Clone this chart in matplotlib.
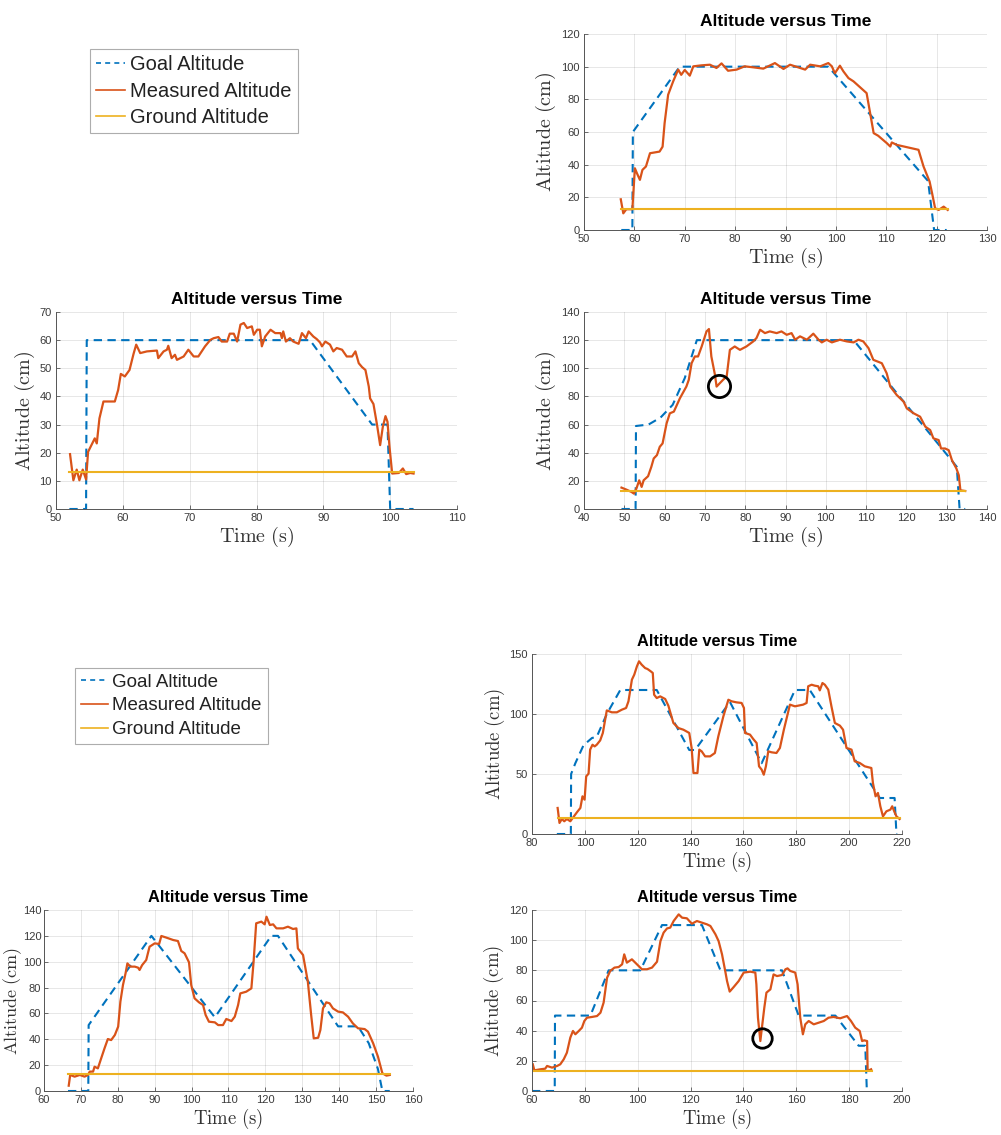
import matplotlib
matplotlib.use("Agg")
import matplotlib.pyplot as plt
from matplotlib.lines import Line2D

plt.rcParams["font.family"] = ["Liberation Sans", "DejaVu Sans"]
plt.rcParams["mathtext.fontset"] = "cm"

BLUE = "#0072BD"
ORANGE = "#D95319"
YELLOW = "#EDB120"
GROUND = 13

# ---- panel 1 (top right)
p1_goal_t = [57.4, 59.6, 59.7, 69.0, 98.5, 118.3, 119.5, 122.0]
p1_goal_v = [0, 0, 60, 100, 100, 30, 0, 0]
p1_meas_t = [57.3, 57.8, 58.4, 59.6, 60.1, 60.5, 61.1, 61.6, 62.3, 63.1, 65.0, 65.6, 66.0, 66.7,
             67.7, 68.7, 69.3, 70.0, 71.0, 71.7, 73.3, 75.0, 76.3, 77.3, 78.6, 80.3, 81.9, 83.6,
             85.6, 87.9, 89.6, 90.9, 92.9, 93.9, 94.9, 96.9, 98.5, 99.2, 99.8, 100.8, 101.5, 102.5,
             103.5, 106.1, 106.8, 107.5, 108.4, 110.1, 110.8, 111.1, 112.1, 116.4, 117.4, 118.6,
             119.1, 119.7, 120.4, 121.4, 122.2]
p1_meas_v = [18.8, 10.2, 12.7, 12.7, 37.8, 34.8, 30.7, 36.8, 38.9, 47, 48, 51, 65.4, 82.8,
             91, 98.2, 95, 98, 94.5, 100.2, 100.8, 101.2, 99.2, 102, 97.5, 98.2, 100.2, 99.6,
             98.8, 102.2, 98.6, 101.2, 99.2, 98.2, 101.2, 100.2, 102.2, 100.2, 96, 100.6, 97.1, 93,
             91, 83.8, 71.6, 59.3, 57.7, 53.2, 51.1, 53.6, 52.1, 49.1, 38.9, 29.7,
             22.5, 13.3, 12.3, 14.3, 12.3]
p1_ground_t = [57.3, 122.2]

# ---- panel 2 (middle left)
p2_goal_t = [52.0, 54.5, 54.6, 88.0, 97.3, 99.6, 100.0, 103.5]
p2_goal_v = [0, 0, 60, 60, 30, 30, 0, 0]
p2_meas_t = [52.1, 52.6, 53.1, 53.5, 54.0, 54.5, 54.8, 55.3, 55.8, 56.1, 56.5, 57.1, 58.8, 59.3,
             59.7, 60.3, 61.0, 61.6, 62.0, 62.6, 63.6, 65.1, 65.3, 66.1, 66.6, 66.8, 67.3, 67.8,
             68.1, 69.1, 69.8, 70.6, 71.3, 72.3, 73.1, 73.6, 74.3, 74.8, 75.6, 76.0, 76.6, 77.1,
             77.6, 78.1, 78.6, 79.3, 79.6, 80.1, 80.5, 80.8, 81.3, 82.1, 82.8, 83.6, 83.8, 84.0,
             84.4, 85.0, 85.5, 86.3, 86.8, 87.4, 87.8, 88.5, 89.0, 89.5, 89.8, 90.3, 91.0, 91.5,
             92.0, 92.8, 93.5, 94.3, 94.8, 95.3, 95.8, 96.3, 96.8, 97.0, 97.5, 98.0, 98.5, 98.9,
             99.3, 99.6, 99.9, 100.3, 101.3, 101.9, 102.4, 103.0, 103.5]
p2_meas_v = [19.5, 10.2, 14, 10.2, 14, 10.5, 20.3, 22.7, 25.1, 23.3, 32.2, 38.2, 38.2, 42.3,
             48, 47.1, 49.4, 55.1, 58.4, 55.4, 56, 56.3, 53.6, 56, 56.6, 58, 53.6, 54.8,
             53, 54.2, 56.6, 54.2, 54.2, 57.8, 60.1, 60.7, 61.1, 59.5, 59.5, 62.3, 62.3, 59.5,
             65.5, 66.1, 64.3, 64.9, 61.9, 63.7, 63.7, 57.8, 61.3, 63.7, 62.5, 62.5, 60.7, 63.1,
             59.5, 60.7, 59.5, 58.7, 62.5, 60.7, 63.1, 61.3, 60.4, 59.2, 57.8, 59.5, 58.4, 56,
             57.2, 56.6, 54.2, 54.2, 56, 51.8, 50.4, 49.4, 43.5, 39.3, 37.3, 30.4, 22.7, 29.2,
             33, 31, 22.1, 12.6, 12.8, 14.4, 12.4, 12.8, 12.6]
p2_ground_t = [52.0, 103.5]

# ---- panel 3 (middle right)
p3_goal_t = [49.3, 52.8, 52.9, 56.0, 59.0, 62.0, 65.0, 68.0, 106.9, 132.5, 133.2, 134.6]
p3_goal_v = [0, 0, 59, 60, 65, 74, 93, 120, 120, 30, 0, 0]
p3_meas_t = [49.3, 50.5, 51.8, 52.4, 53.0, 53.7, 54.3, 54.8, 55.9, 56.7, 57.3, 58.1, 58.8, 59.5,
             60.5, 61.3, 62.3, 63.8, 65.4, 66.0, 66.7, 67.5, 68.3, 69.2, 70.4, 71.0, 71.6, 72.5,
             72.9, 73.7, 74.5, 75.4, 76.2, 77.4, 78.7, 80.3, 82.0, 82.8, 83.7, 84.9, 86.1, 87.8,
             89.0, 90.3, 91.5, 92.4, 93.6, 95.3, 96.9, 98.2, 99.0, 100.2, 101.5, 103.5, 105.2,
             106.9, 108.1, 109.3, 110.6, 111.8, 113.9, 115.1, 116.0, 117.6, 119.3, 120.1, 121.8,
             123.4, 124.7, 125.9, 126.7, 128.0, 128.6, 129.6, 130.5, 131.3, 132.4, 133.0, 133.4,
             134.6]
p3_meas_v = [15.2, 13.8, 12.1, 10.9, 14.5, 20.4, 15.7, 20.4, 23.3, 29.9, 35.9, 38.3, 44.2, 46.6,
             60.9, 68, 69.2, 78.7, 87, 91.8, 103.6, 108.4, 108.4, 115.5, 126.2, 127.9, 108.4, 95.3,
             87, 89.4, 91.8, 94.1, 113.1, 115.5, 113.1, 115.5, 119.1, 121.5, 127.4, 125, 126.2, 125,
             126.2, 123.8, 125, 120.3, 122.7, 120.3, 124.6, 120.3, 118.4, 120.3, 118.4, 120.3, 119.1,
             118.4, 120.3, 119.1, 114.3, 106, 103.6, 96.5, 87, 81, 76.3, 71.5, 68,
             65.6, 58.5, 56.1, 50.2, 49, 43, 43, 41.8, 34.7, 28.8, 24, 13.3,
             12.8]
p3_ground_t = [49.3, 134.6]
p3_circle = (73.5, 87.5)

# ---- panel 4 (lower right)
p4_goal_t = [89.4, 94.7, 94.8, 96.4, 99.5, 102.7, 104.5, 108.3, 113.4, 127.2, 139.5, 141.7,
             154.9, 166.9, 179.5, 185.1, 211.6, 217.2, 217.9, 218.2]
p4_goal_v = [0, 0, 50, 59, 74, 80, 81, 100, 120, 120, 70, 70,
             110, 59, 120, 120, 30, 30, 0, 0]
p4_meas_t = [89.7, 90.4, 91.3, 92.2, 93.2, 94.5, 95.7, 97.0, 98.3, 99.1, 99.9, 100.5, 101.4, 102.0,
             102.9, 103.7, 104.5, 105.8, 106.8, 108.3, 110.2, 112.1, 114.0, 115.6, 116.5, 117.8,
             118.7, 119.7, 120.5, 121.5, 122.8, 123.7, 124.9, 125.7, 126.2, 127.2, 128.5, 130.4,
             131.6, 133.5, 135.4, 137.3, 139.5, 140.4, 141.1, 142.6, 143.3, 144.2, 145.5, 147.4,
             149.2, 150.5, 152.4, 154.3, 155.5, 157.4, 159.3, 160.2, 160.6, 162.5, 163.7, 165.0,
             165.9, 166.9, 167.7, 168.5, 169.4, 170.6, 172.5, 173.8, 175.3, 177.6, 179.5, 182.6,
             183.9, 184.5, 185.8, 187.0, 188.3, 188.9, 189.9, 190.8, 192.1, 193.3, 194.6, 196.5,
             197.7, 199.0, 200.9, 202.1, 204.0, 205.9, 208.4, 209.0, 210.0, 210.9, 211.8, 212.8,
             214.1, 215.6, 216.3, 217.2, 217.9, 219.1]
p4_meas_v = [21.7, 9.2, 12.5, 10.6, 12.5, 10.6, 14.2, 18.1, 21.7, 31.4, 28.6, 48, 50.3, 70.3,
             74.4, 73, 74.4, 78, 84.2, 103, 101.4, 101.4, 103.6, 105, 110.6, 128.6,
             132.8, 139.7, 143.9, 141.1, 138.3, 137.5, 135.6, 134.2, 116.1, 113.3, 114.7, 112.5,
             106.9, 92.5, 88.3, 86.9, 84.2, 71.7, 50.8, 50.8, 70.3, 68.9, 64.7, 64.7,
             67.5, 81.4, 98, 111.9, 110.6, 109.7, 109.2, 105, 84.2, 82.8, 79.2, 75.8,
             56.4, 53.6, 49.4, 56.4, 68.9, 68.1, 67.5, 71.7, 86.9, 107.8, 106.4, 107.8,
             109.2, 123.1, 124.4, 123.6, 123.1, 119.7, 125.8, 124.4, 120.3, 106.4, 92.5, 90.3,
             86.9, 71.7, 70.3, 60.6, 59.2, 56.4, 55, 42.5, 31.4, 34.2, 23.1, 14.7,
             18.9, 20.3, 23.1, 18.1, 14.7, 12.5]
p4_ground_t = [89.7, 219.3]

# ---- panel 5 (bottom left)
p5_goal_t = [66.5, 72.0, 72.1, 89.1, 106.3, 121.6, 123.4, 139.7, 145.1, 148.0, 150.5, 151.7, 153.7]
p5_goal_v = [0, 0, 51, 120, 57, 120, 120, 50, 50, 37, 17, 0, 0]
p5_meas_t = [66.7, 67.1, 68.3, 69.7, 71.0, 71.9, 72.4, 73.3, 73.7, 74.6, 75.5, 76.4, 77.3, 78.2,
             79.2, 80.1, 80.7, 81.4, 82.1, 82.6, 83.4, 84.6, 85.5, 85.9, 86.6, 87.7, 88.6, 90.0,
             91.2, 91.8, 93.2, 95.0, 96.3, 97.2, 98.1, 99.3, 99.9, 100.8, 102.0, 103.1, 103.8,
             104.7, 106.3, 107.2, 108.5, 109.4, 110.8, 111.7, 112.6, 113.2, 114.8, 116.2, 116.8,
             117.5, 118.9, 119.8, 120.3, 121.2, 122.1, 123.0, 124.8, 126.1, 127.5, 128.4, 128.8,
             130.2, 131.5, 132.4, 133.1, 134.3, 134.9, 135.6, 136.5, 137.4, 138.3, 139.7, 141.0,
             142.4, 143.7, 145.1, 146.9, 147.8, 149.2, 150.5, 151.7, 152.8, 153.7]
p5_meas_v = [4.1, 12.4, 11.1, 12.4, 11.1, 12.4, 15, 15, 18.8, 17.5, 25.3, 33, 40.2, 39.4,
             43.3, 49.8, 69.1, 82, 91, 98.7, 96.2, 96.2, 95.4, 93.6, 97.4, 101.3, 111.6, 114.2,
             113.7, 119.9, 118.6, 116.8, 116, 108.3, 106.5, 99.5, 82, 71.7, 68.6, 66.5, 58.8,
             53.6, 53.1, 51, 51, 55.7, 54.1, 57.5, 66.5, 75.5, 76.8, 79.4, 100,
             129.7, 131, 128.9, 134.8, 128.4, 128.9, 125.8, 125.8, 127.1, 125.3, 125.8, 110.3,
             105.2, 84.6, 58.8, 40.7, 41.2, 47.2, 63.9, 68.6, 67.8, 63.9, 61.4, 60.8,
             57.5, 52.3, 48.5, 47.9, 45.9, 36.9, 26.6, 13.7, 11.9, 12.4]
p5_ground_t = [66.5, 153.7]

# ---- panel 6 (bottom right)
p6_goal_t = [60.0, 68.6, 68.7, 82.1, 89.0, 101.0, 109.2, 124.3, 131.3, 154.6, 160.9, 174.8,
             183.6, 186.1, 186.7, 187.0]
p6_goal_v = [0, 0, 50, 50, 80, 80, 110, 110, 80, 80, 50, 50,
             30, 30, 0, 0]
p6_meas_t = [60.3, 60.9, 63.2, 65.0, 65.7, 67.6, 69.5, 70.7, 72.0, 73.2, 74.5, 75.5, 76.4, 77.7,
             78.9, 79.8, 80.8, 82.7, 84.6, 85.9, 87.1, 88.4, 89.6, 91.2, 92.8, 94.1, 94.9, 95.9,
             97.8, 99.7, 101.6, 103.5, 105.4, 107.3, 108.6, 109.8, 111.1, 112.3, 113.6, 115.5,
             116.8, 118.6, 120.5, 122.4, 124.3, 126.2, 127.5, 129.4, 130.6, 131.9, 133.1, 133.8,
             134.8, 136.3, 138.2, 140.1, 142.6, 144.5, 144.9, 145.5, 146.4, 147.0, 147.9, 148.7,
             150.2, 151.4, 152.7, 154.6, 155.9, 156.7, 157.7, 159.6, 160.5, 161.5, 162.5, 163.4,
             164.7, 166.6, 168.5, 170.4, 172.2, 174.1, 176.6, 179.2, 180.7, 182.3, 184.0, 184.9,
             185.7, 186.8, 187.0, 188.3]
p6_meas_v = [17.7, 13.7, 14.4, 14.8, 16.6, 15.5, 16.6, 17.7, 21, 25.4, 35.4, 39.8, 37.6, 39.8,
             42, 46.4, 48.6, 49.1, 49.7, 51.9, 58.6, 75.1, 79.6, 81.8, 82.2, 84, 90.6, 85.1,
             87.3, 84, 80.7, 80.7, 81.8, 85.7, 99.4, 105, 107.8, 108.3, 112.7, 117.1,
             114.9, 114.5, 110.9, 112.7, 111.6, 110.5, 109.4, 103.9, 99.4, 90.6, 79.6, 72.9,
             65.9, 68.9, 72.9, 78.5, 79.1, 78.5, 70.7, 48.6, 33.1, 42, 55.2, 65.2,
             67.4, 77.3, 76.2, 76.9, 80.7, 81.3, 79.6, 78.5, 70.7, 48.6, 37.6, 44.2,
             46.4, 44.2, 45.3, 46.4, 48.6, 49.1, 48.2, 49.7, 46.4, 42, 39.8, 33.1,
             33.6, 33.1, 13.3, 14.4]
p6_ground_t = [60.0, 188.5]
p6_circle = (147.0, 35.4)

W, H = 1001, 1135
fig = plt.figure(figsize=(W / 100, H / 100), dpi=100)
fig.patch.set_facecolor("white")


def make_axes(box, xlim, xstep, ylim, ystep, big=True, ypad=2, ylab=None):
    x0, y0, x1, y1 = box
    ax = fig.add_axes([x0 / W, 1 - y1 / H, (x1 - x0) / W, (y1 - y0) / H])
    ax.set_xlim(*xlim)
    ax.set_ylim(*ylim)
    ax.set_xticks(range(xlim[0], xlim[1] + 1, xstep))
    ax.set_yticks(range(ylim[0], ylim[1] + 1, ystep))
    ax.grid(True, color="#262626", alpha=0.13, linewidth=0.6)
    ax.set_axisbelow(True)
    for s in ("top", "right"):
        ax.spines[s].set_visible(False)
    for s in ("left", "bottom"):
        ax.spines[s].set_color("#555555")
        ax.spines[s].set_linewidth(0.7)
    ax.tick_params(direction="in", length=3, width=0.6, colors="#555555",
                   labelsize=8, labelcolor="#3a3a3a", pad=3)
    lab = 14.5 if big else 13.5
    ax.set_xlabel(r"$\mathrm{Time\ (s)}$", fontsize=lab, color="#333333", labelpad=1)
    ax.set_ylabel(r"$\mathrm{Altitude\ (cm)}$", fontsize=ylab or lab, color="#333333",
                  labelpad=ypad)
    ax.set_title("Altitude versus Time", fontsize=12.5 if big else 11.8,
                 fontweight="bold", pad=6)
    return ax


def draw(ax, gt, gv, mt, mv, grt):
    ax.plot(gt, gv, color=BLUE, linestyle=(0, (4, 2.6)), linewidth=1.5)
    ax.plot(mt, mv, color=ORANGE, linewidth=1.6)
    ax.plot(grt, [GROUND] * len(grt), color=YELLOW, linewidth=1.5)


ax1 = make_axes((584, 34, 987, 230), (50, 130), 10, (0, 120), 20)
draw(ax1, p1_goal_t, p1_goal_v, p1_meas_t, p1_meas_v, p1_ground_t)

ax2 = make_axes((56, 312, 457, 509), (50, 110), 10, (0, 70), 10)
draw(ax2, p2_goal_t, p2_goal_v, p2_meas_t, p2_meas_v, p2_ground_t)

ax3 = make_axes((584, 312, 987, 509), (40, 140), 10, (0, 140), 20)
draw(ax3, p3_goal_t, p3_goal_v, p3_meas_t, p3_meas_v, p3_ground_t)
ax3.plot([p3_circle[0]], [p3_circle[1]], marker="o", markersize=16, markerfacecolor="none",
         markeredgecolor="black", markeredgewidth=2)

ax4 = make_axes((532, 654, 902, 834), (80, 220), 20, (0, 150), 50, big=False)
draw(ax4, p4_goal_t, p4_goal_v, p4_meas_t, p4_meas_v, p4_ground_t)

ax5 = make_axes((44, 910, 413, 1091), (60, 160), 10, (0, 140), 20, big=False, ypad=-1,
                ylab=13.0)
ax5.tick_params(axis="y", pad=2)
draw(ax5, p5_goal_t, p5_goal_v, p5_meas_t, p5_meas_v, p5_ground_t)

ax6 = make_axes((532, 910, 902, 1091), (60, 200), 20, (0, 120), 20, big=False)
draw(ax6, p6_goal_t, p6_goal_v, p6_meas_t, p6_meas_v, p6_ground_t)
ax6.plot([p6_circle[0]], [p6_circle[1]], marker="o", markersize=14, markerfacecolor="none",
         markeredgecolor="black", markeredgewidth=2)

handles = [Line2D([], [], color=BLUE, linestyle=(0, (3, 2.5)), linewidth=1.2),
           Line2D([], [], color=ORANGE, linewidth=1.2),
           Line2D([], [], color=YELLOW, linewidth=1.2)]
labels = ["Goal Altitude", "Measured Altitude", "Ground Altitude"]

for (lx, ly, fs, ls) in [(90, 49, 14.5, 0.38), (75, 668, 13.5, 0.35)]:
    leg = fig.legend(handles, labels, loc="upper left", bbox_to_anchor=(lx / W, 1 - ly / H),
                     fontsize=fs, frameon=True, fancybox=False, edgecolor="#999999",
                     borderaxespad=0, borderpad=0.3, handlelength=1.45, handletextpad=0.25,
                     labelspacing=ls)
    leg.get_frame().set_linewidth(0.8)
    for t in leg.get_texts():
        t.set_color("#222222")

fig.savefig("out.png", dpi=100)
plt.close(fig)
